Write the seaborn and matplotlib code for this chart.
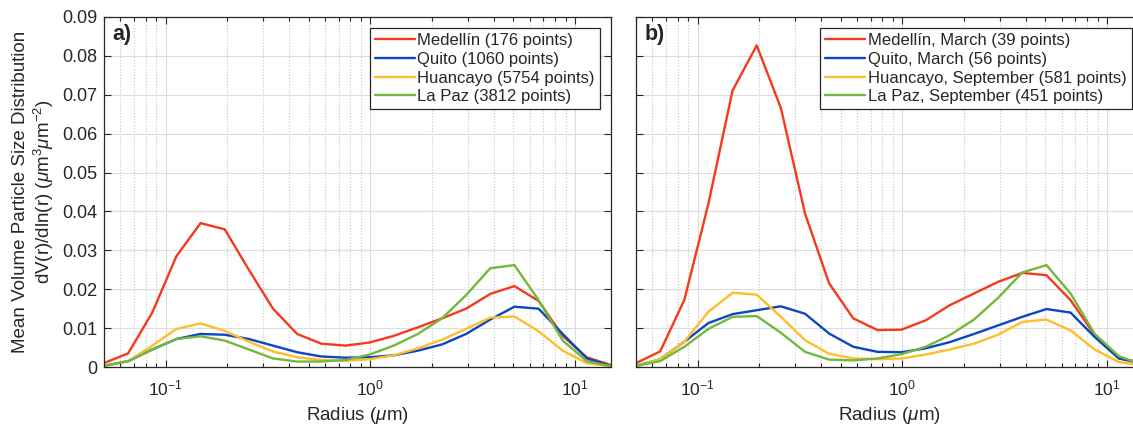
import matplotlib

matplotlib.use("Agg", force=True)
import matplotlib.pyplot as plt
import matplotlib.ticker as mticker
import pandas as pd
import seaborn as sns

# AERONET radius bins (um)
RADIUS = [0.050000, 0.065604, 0.086077, 0.112939, 0.148184, 0.194429, 0.255105,
          0.334716, 0.439173, 0.576227, 0.756052, 0.991996, 1.301571, 1.707757,
          2.240702, 2.939966, 3.857452, 5.061260, 6.640745, 8.713145, 11.432287, 15.0]

# panel a) full records
LABELS_A = ["Medellín (176 points)", "Quito (1060 points)",
            "Huancayo (5754 points)", "La Paz (3812 points)"]
MEDELLIN_A = [0.0010, 0.0035, 0.0140, 0.0285, 0.0370, 0.0354, 0.0250, 0.0150, 0.0085, 0.0060, 0.0055,
              0.0063, 0.0080, 0.0102, 0.0125, 0.0150, 0.0188, 0.0208, 0.0170, 0.0080, 0.0025, 0.0005]
QUITO_A = [0.0003, 0.0015, 0.0045, 0.0072, 0.0085, 0.0083, 0.0072, 0.0055, 0.0038, 0.0027, 0.0024,
           0.0025, 0.0030, 0.0042, 0.0058, 0.0085, 0.0122, 0.0155, 0.0150, 0.0085, 0.0022, 0.0003]
HUANCAYO_A = [0.0003, 0.0015, 0.0055, 0.0098, 0.0112, 0.0093, 0.0065, 0.0040, 0.0025, 0.0018, 0.0016,
              0.0020, 0.0030, 0.0048, 0.0070, 0.0098, 0.0127, 0.0130, 0.0092, 0.0042, 0.0010, 0.0002]
LAPAZ_A = [0.0003, 0.0015, 0.0045, 0.0072, 0.0079, 0.0068, 0.0045, 0.0022, 0.0014, 0.0014, 0.0018,
           0.0032, 0.0055, 0.0085, 0.0125, 0.0185, 0.0254, 0.0262, 0.0172, 0.0068, 0.0015, 0.0002]

# panel b) selected months
LABELS_B = ["Medellín, March (39 points)", "Quito, March (56 points)",
            "Huancayo, September (581 points)", "La Paz, September (451 points)"]
MEDELLIN_B = [0.0010, 0.0040, 0.0172, 0.0420, 0.0711, 0.0827, 0.0666, 0.0395, 0.0215, 0.0125, 0.0095,
              0.0096, 0.0120, 0.0159, 0.0189, 0.0219, 0.0242, 0.0236, 0.0172, 0.0082, 0.0022, 0.0012]
QUITO_B = [0.0003, 0.0020, 0.0065, 0.0113, 0.0136, 0.0146, 0.0156, 0.0137, 0.0086, 0.0052, 0.0039,
           0.0038, 0.0048, 0.0064, 0.0085, 0.0107, 0.0129, 0.0149, 0.0140, 0.0077, 0.0022, 0.0008]
HUANCAYO_B = [0.0003, 0.0020, 0.0065, 0.0142, 0.0191, 0.0186, 0.0129, 0.0069, 0.0034, 0.0022, 0.0020,
              0.0022, 0.0032, 0.0045, 0.0060, 0.0083, 0.0116, 0.0122, 0.0094, 0.0045, 0.0013, 0.0003]
LAPAZ_B = [0.0003, 0.0015, 0.0052, 0.0098, 0.0129, 0.0131, 0.0088, 0.0039, 0.0019, 0.0017, 0.0022,
           0.0033, 0.0052, 0.0082, 0.0122, 0.0178, 0.0243, 0.0262, 0.0189, 0.0085, 0.0028, 0.0005]

COLORS = ["#F5391C", "#0E45C0", "#FDBE2A", "#72B83A"]
Y_TICKS = [0, 0.01, 0.02, 0.03, 0.04, 0.05, 0.06, 0.07, 0.08, 0.09]


def long_frame(labels, series):
    frames = []
    for label, values in zip(labels, series):
        frames.append(pd.DataFrame({"radius": RADIUS, "dv": values, "site": label}))
    return pd.concat(frames, ignore_index=True)


def draw_panel(ax, labels, series, tag, show_ylabels):
    df = long_frame(labels, series)
    sns.lineplot(data=df, x="radius", y="dv", hue="site", hue_order=labels,
                 palette=dict(zip(labels, COLORS)), linewidth=1.7, errorbar=None, ax=ax)
    ax.set_xscale("log")
    ax.set_xlim(0.05, 15)
    ax.set_ylim(0, 0.09)
    ax.set_yticks(Y_TICKS)
    ax.yaxis.set_major_formatter(mticker.FuncFormatter(lambda v, p: f"{round(v, 2):g}"))
    ax.set_xticks([0.1, 1, 10])
    ax.xaxis.set_minor_formatter(mticker.NullFormatter())
    ax.grid(which="major", color="#DCDCDC", linewidth=0.8)
    ax.grid(which="minor", axis="x", color="#C4C4C4", linestyle=":", linewidth=0.8)
    ax.set_axisbelow(True)
    ax.tick_params(which="both", direction="in", top=True, right=True, colors="#262626", width=0.8)
    ax.tick_params(which="major", length=5)
    ax.tick_params(which="minor", length=3)
    ax.tick_params(axis="x", which="major", labelsize=12.5, pad=8)
    ax.tick_params(axis="y", which="major", labelsize=13, pad=5)
    for spine in ax.spines.values():
        spine.set_color("#262626")
        spine.set_linewidth(0.9)
    ax.set_xlabel(r"Radius ($\mu$m)", fontsize=13.5, labelpad=5)
    if show_ylabels:
        ax.set_ylabel("Mean Volume Particle Size Distribution\n"
                      r"dV(r)/dln(r) ($\mu$m$^3$$\mu$m$^{-2}$)", fontsize=13.5, labelpad=4)
    else:
        ax.set_ylabel("")
        ax.set_yticklabels([])
    ax.text(0.017, 0.95, tag, transform=ax.transAxes, fontsize=15.5, fontweight="bold",
            ha="left", va="center")
    sns.move_legend(ax, "upper right", title=None, frameon=True, fancybox=False,
                    edgecolor="#262626", framealpha=1, fontsize=12, handlelength=2.4,
                    handletextpad=0.15, labelspacing=0.22, borderpad=0.3, borderaxespad=0.68)
    ax.get_legend().get_frame().set_linewidth(0.9)


def main():
    sns.set_theme(style="ticks")
    plt.rcParams["font.family"] = ["Liberation Sans", "DejaVu Sans"]
    plt.rcParams["mathtext.fontset"] = "custom"
    plt.rcParams["mathtext.rm"] = "Liberation Sans"
    plt.rcParams["mathtext.it"] = "Liberation Sans:italic"
    plt.rcParams["text.color"] = "#262626"
    plt.rcParams["axes.labelcolor"] = "#262626"

    fig = plt.figure(figsize=(11.33, 4.28), dpi=100)
    bottom, height = 61 / 428, 350 / 428
    ax_a = fig.add_axes([104 / 1133, bottom, 507 / 1133, height])
    ax_b = fig.add_axes([636 / 1133, bottom, 507 / 1133, height])

    draw_panel(ax_a, LABELS_A, [MEDELLIN_A, QUITO_A, HUANCAYO_A, LAPAZ_A], "a)", True)
    draw_panel(ax_b, LABELS_B, [MEDELLIN_B, QUITO_B, HUANCAYO_B, LAPAZ_B], "b)", False)

    fig.savefig("out.png", dpi=100)
    plt.close(fig)


if __name__ == "__main__":
    main()
